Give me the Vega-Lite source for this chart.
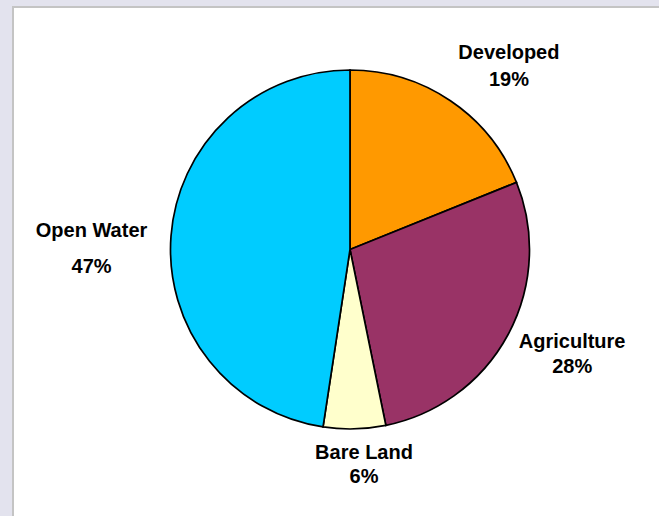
{
  "$schema": "https://vega.github.io/schema/vega-lite/v6.json",
  "autosize": {"type": "none"},
  "width": 674,
  "height": 529,
  "padding": {"left": 13, "top": 7, "right": -28, "bottom": -20},
  "background": "#e3e3ee",
  "view": {"fill": "white", "stroke": "#c4c4c4", "strokeWidth": 2},
  "config": {
    "text": {"font": "Liberation Sans", "fontWeight": "bold", "fontSize": 20, "align": "center", "baseline": "alphabetic", "lineBreak": "\n", "color": "black"}
  },
  "data": {
    "values": [
      {"category": "Developed", "rank": 1, "value": 18.9, "label": "Developed\n19%"},
      {"category": "Agriculture", "rank": 2, "value": 27.9, "label": "Agriculture\n28%"},
      {"category": "Bare Land", "rank": 3, "value": 5.6, "label": "Bare Land\n6%"},
      {"category": "Open Water", "rank": 4, "value": 47.6, "label": "Open Water\n47%"}
    ]
  },
  "encoding": {
    "theta": {"field": "value", "type": "quantitative", "stack": true},
    "order": {"field": "rank", "type": "quantitative"},
    "detail": {"field": "category", "type": "nominal"}
  },
  "layer": [
    {
      "mark": {"type": "arc", "outerRadius": 179.5, "stroke": "black", "strokeWidth": 1.7, "y": {"expr": "height/2 - 22"}},
      "encoding": {
        "color": {
          "field": "category", "type": "nominal",
          "scale": {"domain": ["Developed", "Agriculture", "Bare Land", "Open Water"], "range": ["#ff9900", "#993366", "#ffffcc", "#00ccff"]},
          "legend": null
        }
      }
    },
    {
      "mark": {"type": "text", "radius": 200, "dx": 47, "dy": -24.5, "lineHeight": 27, "y": {"expr": "height/2 - 22"}},
      "encoding": {"text": {"condition": {"test": "datum.category === 'Developed'", "field": "label"}, "value": ""}}
    },
    {
      "mark": {"type": "text", "radius": 200, "dx": 46, "dy": 3.5, "lineHeight": 25, "y": {"expr": "height/2 - 22"}},
      "encoding": {"text": {"condition": {"test": "datum.category === 'Agriculture'", "field": "label"}, "value": ""}}
    },
    {
      "mark": {"type": "text", "radius": 200, "dx": 9, "dy": 10, "lineHeight": 24, "y": {"expr": "height/2 - 22"}},
      "encoding": {"text": {"condition": {"test": "datum.category === 'Bare Land'", "field": "label"}, "value": ""}}
    },
    {
      "mark": {"type": "text", "radius": 200, "dx": -59, "dy": 2.5, "lineHeight": 36, "y": {"expr": "height/2 - 22"}},
      "encoding": {"text": {"condition": {"test": "datum.category === 'Open Water'", "field": "label"}, "value": ""}}
    }
  ]
}
